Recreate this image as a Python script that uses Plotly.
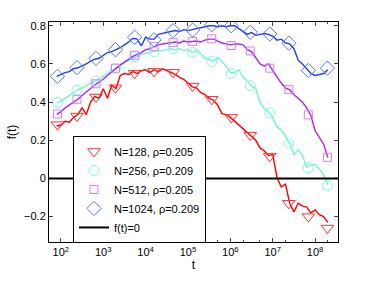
import plotly.graph_objects as go

# ---- data (log10 t) ----
line_logt = [round(1.9 + 0.1 * i, 1) for i in range(65)]

red_line = [0.275, 0.28, 0.30, 0.295, 0.32, 0.335, 0.37, 0.335, 0.40, 0.43,
            0.42, 0.47, 0.42, 0.49, 0.47, 0.54, 0.55, 0.545, 0.56, 0.55,
            0.565, 0.57, 0.555, 0.57, 0.56, 0.575, 0.565, 0.555, 0.545, 0.53,
            0.52, 0.50, 0.48, 0.475, 0.45, 0.44, 0.42, 0.41, 0.385, 0.34,
            0.335, 0.32, 0.30, 0.285, 0.26, 0.245, 0.225, 0.20, 0.16, 0.145,
            0.12, 0.125, 0.005, -0.045, -0.03, -0.13, -0.175, -0.13, -0.145, -0.15,
            -0.18, -0.165, -0.19, -0.20, -0.23]
cyan_line = [0.395, 0.405, 0.42, 0.435, 0.45, 0.465, 0.475, 0.485, 0.50, 0.51,
             0.52, 0.535, 0.55, 0.565, 0.575, 0.59, 0.605, 0.62, 0.63, 0.64,
             0.65, 0.655, 0.66, 0.665, 0.67, 0.67, 0.675, 0.68, 0.675, 0.68,
             0.67, 0.675, 0.66, 0.67, 0.655, 0.63, 0.625, 0.615, 0.635, 0.61,
             0.59, 0.555, 0.555, 0.57, 0.53, 0.51, 0.485, 0.47, 0.40, 0.365,
             0.35, 0.32, 0.27, 0.255, 0.22, 0.185, 0.125, 0.15, 0.12, 0.06,
             0.07, 0.075, 0.05, 0.02, -0.035]
purple_line = [0.335, 0.35, 0.37, 0.385, 0.40, 0.415, 0.435, 0.455, 0.47, 0.49,
               0.505, 0.52, 0.54, 0.56, 0.578, 0.595, 0.61, 0.625, 0.64, 0.65,
               0.66, 0.675, 0.68, 0.69, 0.70, 0.705, 0.71, 0.712, 0.715, 0.71,
               0.72, 0.715, 0.718, 0.72, 0.715, 0.725, 0.73, 0.73, 0.72, 0.71,
               0.705, 0.70, 0.705, 0.705, 0.70, 0.675, 0.665, 0.63, 0.60, 0.59,
               0.60, 0.565, 0.53, 0.50, 0.475, 0.465, 0.44, 0.42, 0.40, 0.37,
               0.33, 0.25, 0.215, 0.18, 0.11]
blue_line = [0.535, 0.545, 0.555, 0.56, 0.575, 0.58, 0.59, 0.60, 0.615, 0.625,
             0.63, 0.645, 0.66, 0.665, 0.675, 0.685, 0.70, 0.715, 0.735, 0.73,
             0.695, 0.74, 0.73, 0.73, 0.755, 0.76, 0.765, 0.77, 0.775, 0.77,
             0.78, 0.775, 0.78, 0.785, 0.79, 0.795, 0.80, 0.80, 0.795, 0.80,
             0.795, 0.80, 0.80, 0.785, 0.77, 0.755, 0.765, 0.75, 0.755, 0.76,
             0.755, 0.745, 0.725, 0.73, 0.71, 0.705, 0.68, 0.62, 0.60, 0.575,
             0.55, 0.54, 0.545, 0.55, 0.57]

marker_logt = [1.92, 2.38, 2.83, 3.29, 3.74, 4.20, 4.65, 5.11, 5.56, 6.02,
               6.47, 6.93, 7.38, 7.84, 8.29]
red_mk = [0.282, 0.327, 0.427, 0.475, 0.552, 0.561, 0.556, 0.484, 0.415, 0.32,
          0.227, 0.116, -0.13, -0.20, -0.26]
cyan_mk = [0.398, 0.463, 0.51, 0.575, 0.638, 0.663, 0.68, 0.66, 0.613, 0.55,
           0.487, 0.344, 0.185, 0.056, -0.037]
purple_mk = [0.338, 0.415, 0.496, 0.578, 0.646, 0.692, 0.712, 0.718, 0.732, 0.697,
             0.668, 0.578, 0.467, 0.333, 0.111]
blue_mk = [0.535, 0.581, 0.629, 0.675, 0.74, 0.727, 0.775, 0.778, 0.805, 0.80,
           0.766, 0.757, 0.709, 0.566, 0.578]

labels = ["N=128, ρ=0.205", "N=256, ρ=0.209", "N=512, ρ=0.205", "N=1024, ρ=0.209"]
zero_label = "f(t)=0"
xtick_exp = [2, 3, 4, 5, 6, 7, 8]
ytick_vals = [-0.2, 0, 0.2, 0.4, 0.6, 0.8]

t_line = [10 ** v for v in line_logt]
t_mk = [10 ** v for v in marker_logt]

series = [
    (red_line, red_mk, "#ff0000", "#ff3030", "triangle-down-open", 11),
    (cyan_line, cyan_mk, "#6ff5d8", "#80f8e0", "circle-open", 10),
    (purple_line, purple_mk, "#a626f2", "#d77cff", "square-open", 8),
    (blue_line, blue_mk, "#1f3dff", "#5a72ff", "diamond-open", 11),
]

fig = go.Figure()
for (yl, ym, lc, mc, sym, sz), lab in zip(series, labels):
    fig.add_trace(go.Scatter(x=t_line, y=yl, mode="lines",
                             line=dict(color=lc, width=1.4), showlegend=False,
                             hoverinfo="skip"))
for (yl, ym, lc, mc, sym, sz), lab in zip(series, labels):
    fig.add_trace(go.Scatter(x=t_mk, y=ym, mode="markers", name=lab,
                             marker=dict(symbol=sym, size=sz, color=mc,
                                         line=dict(width=1, color=mc))))
fig.add_trace(go.Scatter(x=[None], y=[None], mode="lines", name=zero_label,
                         line=dict(color="black", width=2)))
fig.add_shape(type="line", xref="paper", x0=0, x1=1, yref="y", y0=0, y1=0,
              line=dict(color="black", width=2))

fig.update_layout(
    width=374, height=281,
    margin=dict(l=48, r=36, t=22, b=35),
    paper_bgcolor="white", plot_bgcolor="white",
    font=dict(family="Liberation Sans, Arial, sans-serif", size=11, color="black"),
    legend=dict(x=0.083, y=0.482, xanchor="left", yanchor="top",
                bordercolor="black", borderwidth=1, bgcolor="white",
                font=dict(size=11), tracegroupgap=0, itemwidth=30),
)
fig.update_xaxes(type="log", range=[1.72, 8.54],
                 tickvals=[10 ** e for e in xtick_exp],
                 ticktext=[f"10<sup>{e}</sup>" for e in xtick_exp],
                 ticks="inside", ticklen=4, showgrid=False, zeroline=False,
                 showline=True, linecolor="black", linewidth=1, mirror="allticks",
                 minor=dict(ticks="inside", ticklen=2, showgrid=False),
                 title=dict(text="t", standoff=2, font=dict(size=12)))
fig.update_yaxes(range=[-0.333, 0.82], tickvals=ytick_vals,
                 ticktext=["\u22120.2", "0", "0.2", "0.4", "0.6", "0.8"],
                 ticks="inside", ticklen=4, showgrid=False, zeroline=False,
                 showline=True, linecolor="black", linewidth=1, mirror="allticks",
                 title=dict(text="f(t)", standoff=4, font=dict(size=12)))

fig.write_html("out.html",
               config={"displayModeBar": False},
               post_script="document.body.style.margin='0';document.body.style.overflow='hidden';")
